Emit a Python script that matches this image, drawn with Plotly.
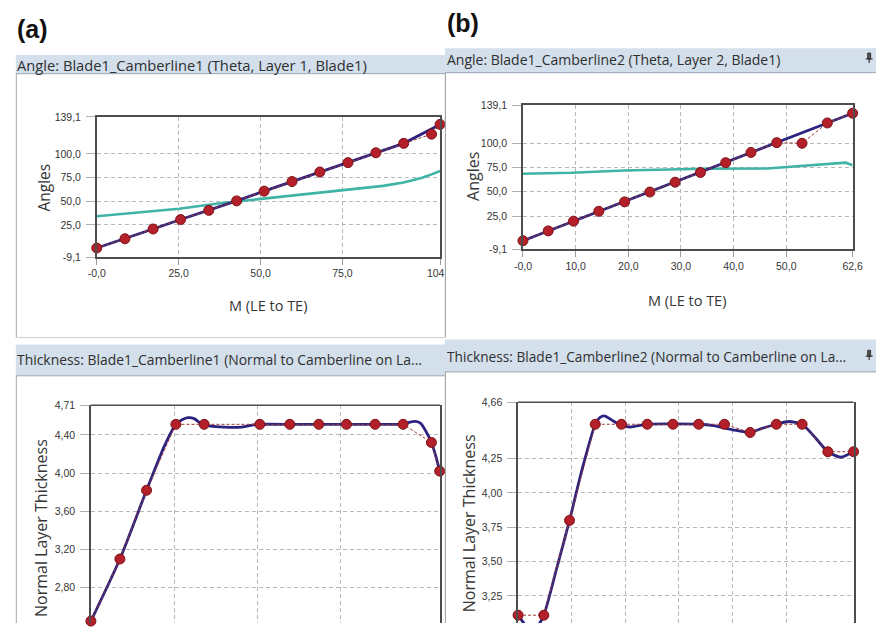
import plotly.graph_objects as go

W, H = 889, 629

# ---------------- data ----------------
# (a) angle, layer 1
a_ang_ctrl_m = [0.0, 8.6, 17.2, 25.6, 34.2, 42.7, 51.1, 59.6, 68.1, 76.7, 85.2, 93.7, 102.2, 104.8]
a_ang_ctrl = [0.5, 10.3, 20.6, 30.6, 40.3, 50.3, 60.6, 70.7, 80.8, 90.7, 101.1, 111.1, 120.8, 131.1]
a_ang_curve_m = [0.0, 8.6, 17.2, 25.6, 34.2, 42.7, 51.1, 59.6, 68.1, 76.7, 85.2, 93.7, 104.8]
a_ang_curve = [0.5, 10.3, 20.6, 30.6, 40.3, 50.3, 60.6, 70.7, 80.8, 90.7, 101.1, 111.1, 131.1]
a_beta_m = [0.0, 13.0, 25.1, 37.7, 49.9, 62.6, 74.8, 87.4, 93.7, 99.3, 102.2, 104.8]
a_beta = [34.1, 37.9, 42.0, 47.8, 52.4, 56.5, 61.1, 66.2, 69.7, 74.8, 78.3, 81.8]

# (b) angle, layer 2
b_ang_ctrl_m = [0.0, 4.8, 9.6, 14.4, 19.3, 24.1, 28.9, 33.7, 38.5, 43.3, 48.2, 53.0, 57.8, 62.6]
b_ang_ctrl = [-0.3, 9.8, 19.8, 29.9, 39.6, 49.7, 59.8, 69.8, 79.9, 90.4, 100.5, 99.8, 120.7, 130.7]
b_ang_curve_m = [0.0, 4.8, 9.6, 14.4, 19.3, 24.1, 28.9, 33.7, 38.5, 43.3, 48.2, 57.8, 62.6]
b_ang_curve = [-0.3, 9.8, 19.8, 29.9, 39.6, 49.7, 59.8, 69.8, 79.9, 90.4, 100.5, 120.7, 130.7]
b_beta_m = [0.0, 9.3, 19.2, 27.8, 34.0, 46.4, 52.6, 58.8, 61.3, 62.6]
b_beta = [68.5, 69.5, 71.9, 72.9, 73.6, 73.9, 76.3, 79.3, 79.9, 77.3]

# (a) thickness, layer 1
a_thk_ctrl_m = [0.0, 8.7, 16.7, 25.5, 34.0, 50.7, 59.7, 68.4, 76.7, 85.3, 93.7, 102.2, 104.7]
a_thk_ctrl = [2.45, 3.10, 3.82, 4.51, 4.51, 4.51, 4.51, 4.51, 4.51, 4.51, 4.51, 4.32, 4.02]
a_thk_curve_m = [0.0, 8.7, 16.7, 22.0, 25.5, 27.5, 29.1, 31.0, 33.0, 36.0, 40.0, 45.0, 48.0,
                 51.0, 60.0, 70.0, 80.0, 90.0, 93.7, 95.5, 97.4, 99.0, 100.5, 102.2, 103.5, 104.7]
a_thk_curve = [2.45, 3.10, 3.82, 4.28, 4.51, 4.56, 4.58, 4.57, 4.52, 4.49, 4.48, 4.48, 4.50,
               4.51, 4.51, 4.51, 4.51, 4.51, 4.51, 4.53, 4.54, 4.52, 4.44, 4.32, 4.18, 4.02]

# (b) thickness, layer 2
b_thk_ctrl_m = [0.0, 4.8, 9.6, 14.4, 19.3, 24.1, 28.9, 33.7, 38.5, 43.3, 48.2, 53.0, 57.8, 62.6]
b_thk_ctrl = [3.11, 3.11, 3.80, 4.50, 4.50, 4.50, 4.50, 4.50, 4.50, 4.44, 4.50, 4.50, 4.30, 4.30]
b_thk_curve_m = [0.0, 1.5, 2.4, 3.6, 4.8, 7.2, 9.6, 12.0, 14.4, 15.3, 16.2, 17.5, 19.3, 21.0,
                 24.1, 33.7, 36.5, 40.0, 43.3, 45.5, 48.2, 50.5, 53.0, 55.5, 57.8, 60.2, 62.6]
b_thk_curve = [3.11, 3.03, 3.00, 3.03, 3.11, 3.45, 3.80, 4.18, 4.50, 4.55, 4.56, 4.53, 4.49, 4.48,
               4.50, 4.50, 4.49, 4.46, 4.44, 4.47, 4.50, 4.52, 4.50, 4.40, 4.30, 4.26, 4.30]

# axis ticks
a_m_ticks = [0.0, 25.0, 50.0, 75.0, 104.8]
a_m_text = ["-0,0", "25,0", "50,0", "75,0", "104,8"]
b_m_ticks = [0.0, 10.0, 20.0, 30.0, 40.0, 50.0, 62.6]
b_m_text = ["-0,0", "10,0", "20,0", "30,0", "40,0", "50,0", "62,6"]
ang_ticks = [-9.1, 25.0, 50.0, 75.0, 100.0, 139.1]
ang_text = ["-9,1", "25,0", "50,0", "75,0", "100,0", "139,1"]
a_thk_ticks = [2.80, 3.20, 3.60, 4.00, 4.40, 4.71]
a_thk_text = ["2,80", "3,20", "3,60", "4,00", "4,40", "4,71"]
b_thk_ticks = [3.25, 3.50, 3.75, 4.00, 4.25, 4.66]
b_thk_text = ["3,25", "3,50", "3,75", "4,00", "4,25", "4,66"]

headers = [
    "Angle: Blade1_Camberline1 (Theta, Layer 1, Blade1)",
    "Angle: Blade1_Camberline2 (Theta, Layer 2, Blade1)",
    "Thickness: Blade1_Camberline1 (Normal to Camberline on La...",
    "Thickness: Blade1_Camberline2 (Normal to Camberline on La...",
]
x_title = "M (LE to TE)"
ang_title = "Angles"
thk_title = "Normal Layer Thickness"

# ---------------- styling ----------------
FONT = "Open Sans, Noto Sans, sans-serif"
TICKFONT = "Liberation Sans, Arial, sans-serif"
NAVY = "#2b237f"
RED = "#b3202a"
RED_EDGE = "#7c1318"
TEAL = "#3fb4a4"
GRID = "#b8b8b8"
FRAME = "#4d4d4d"
HEADER_BG = "#d3dfeb"
PANEL_EDGE = "#a8a8a8"
TEXT = "#363636"


def px(x):
    return x / W


def py(y):
    return 1 - y / H


fig = go.Figure()


def add_panel(idx, curve_m, curve, ctrl_m, ctrl, beta_m=None, beta=None, spline=False):
    xa = "x" if idx == 1 else f"x{idx}"
    ya = "y" if idx == 1 else f"y{idx}"
    if beta is not None:
        fig.add_trace(go.Scatter(x=beta_m, y=beta, mode="lines", xaxis=xa, yaxis=ya,
                                 line=dict(color=TEAL, width=2.6), hoverinfo="skip"))
    fig.add_trace(go.Scatter(x=curve_m, y=curve, mode="lines", xaxis=xa, yaxis=ya,
                             line=dict(color=NAVY, width=2.8,
                                       shape="spline" if spline else "linear",
                                       smoothing=0.6 if spline else None),
                             hoverinfo="skip"))
    fig.add_trace(go.Scatter(x=ctrl_m, y=ctrl, mode="lines", xaxis=xa, yaxis=ya,
                             line=dict(color="#9b3a3a", width=1, dash="3px,2px"),
                             hoverinfo="skip"))
    fig.add_trace(go.Scatter(x=ctrl_m, y=ctrl, mode="markers", xaxis=xa, yaxis=ya,
                             marker=dict(color=RED, size=10, line=dict(color=RED_EDGE, width=1)),
                             cliponaxis=False, hoverinfo="skip"))


add_panel(1, a_ang_curve_m, a_ang_curve, a_ang_ctrl_m, a_ang_ctrl, a_beta_m, a_beta)
add_panel(2, b_ang_curve_m, b_ang_curve, b_ang_ctrl_m, b_ang_ctrl, b_beta_m, b_beta)
add_panel(3, a_thk_curve_m, a_thk_curve, a_thk_ctrl_m, a_thk_ctrl, spline=True)
add_panel(4, b_thk_curve_m, b_thk_curve, b_thk_ctrl_m, b_thk_ctrl, spline=True)

tickfont = dict(family=TICKFONT, size=10.5, color=TEXT)


def xaxis(dom, rng, vals, text, anchor, labels=True, bottom_line=True):
    return dict(domain=[px(dom[0]), px(dom[1])], range=rng, tickvals=vals, ticktext=text,
                showticklabels=labels, tickfont=tickfont, anchor=anchor,
                showgrid=True, gridcolor=GRID, griddash="4px,3px", gridwidth=1,
                showline=bottom_line, mirror=bottom_line, linecolor=FRAME, linewidth=1.5,
                ticks="outside" if labels else "", ticklen=6, tickcolor="#9a9a9a",
                zeroline=False, fixedrange=True)


def yaxis(dom, rng, vals, text, anchor):
    return dict(domain=[py(dom[1]), py(dom[0])], range=rng, tickvals=vals, ticktext=text,
                tickfont=tickfont, anchor=anchor,
                showgrid=True, gridcolor=GRID, griddash="4px,3px", gridwidth=1,
                showline=True, mirror=True, linecolor=FRAME, linewidth=1.5,
                ticks="outside", ticklen=9, tickcolor="#b0b0b0", ticklabelstandoff=3,
                zeroline=False, fixedrange=True)


fig.update_layout(
    width=W, height=H, autosize=False,
    margin=dict(l=0, r=0, t=0, b=0),
    paper_bgcolor="white", plot_bgcolor="white",
    showlegend=False,
    xaxis=xaxis((90, 442), [0, 104.8], a_m_ticks, a_m_text, "y"),
    yaxis=yaxis((113, 256), [-9.1, 139.1], ang_ticks, ang_text, "x"),
    xaxis2=xaxis((527, 865), [0, 62.6], b_m_ticks, b_m_text, "y2"),
    yaxis2=yaxis((101, 248), [-9.1, 139.1], ang_ticks, ang_text, "x2"),
    xaxis3=xaxis((84, 442), [0, 104.8], a_m_ticks[:4], a_m_text[:4], "y3",
                 labels=False, bottom_line=False),
    yaxis3=yaxis((407, 629), [2.43, 4.71], a_thk_ticks, a_thk_text, "x3"),
    xaxis4=xaxis((522, 866), [0, 62.6], b_m_ticks[:6], b_m_text[:6], "y4",
                 labels=False, bottom_line=False),
    yaxis4=yaxis((404, 629), [3.053, 4.66], b_thk_ticks, b_thk_text, "x4"),
)

shapes = []
# window panels: header bars and borders
header_boxes = [(7, 447, 50, 69), (447, 889, 43, 68), (7, 447, 345, 377), (447, 889, 340, 373)]
for (x0, x1, y0, y1) in header_boxes:
    shapes.append(dict(type="rect", xref="paper", yref="paper", layer="below",
                       x0=px(x0), x1=px(x1), y0=py(y1), y1=py(y0),
                       fillcolor=HEADER_BG, line=dict(width=0)))
    shapes.append(dict(type="line", xref="paper", yref="paper", layer="below",
                       x0=px(x0), x1=px(x1), y0=py(y1), y1=py(y1),
                       line=dict(color="#9aa6b3", width=1)))
# panel edges
for (x, y0, y1) in [(7.5, 69, 338), (7.5, 377, 629)]:
    shapes.append(dict(type="line", xref="paper", yref="paper", layer="below",
                       x0=px(x), x1=px(x), y0=py(y0), y1=py(y1),
                       line=dict(color=PANEL_EDGE, width=1)))
shapes.append(dict(type="line", xref="paper", yref="paper", layer="below",
                   x0=px(7), x1=px(447), y0=py(338), y1=py(338),
                   line=dict(color="#d0d0d0", width=1)))
# the right-hand panels sit over the left-hand ones
shapes.append(dict(type="rect", xref="paper", yref="paper", layer="above",
                   x0=px(448), x1=px(470), y0=py(290), y1=py(266),
                   fillcolor="white", line=dict(width=0)))
for (y0, y1) in [(68, 338), (373, 629)]:
    shapes.append(dict(type="line", xref="paper", yref="paper", layer="above",
                       x0=px(447.5), x1=px(447.5), y0=py(y0), y1=py(y1),
                       line=dict(color=PANEL_EDGE, width=1.2)))
# top frame lines of the thickness plots
for n in (3, 4):
    shapes.append(dict(type="line", xref=f"x{n} domain", yref=f"y{n} domain",
                       x0=0, x1=1, y0=1, y1=1, line=dict(color=FRAME, width=1.5)))
# pin icons on the right-hand headers
for yc in (53, 356):
    shapes.append(dict(type="rect", xref="paper", yref="paper",
                       x0=px(880.5), x1=px(883.5), y0=py(yc + 1), y1=py(yc - 5),
                       fillcolor="#555", line=dict(color="#333", width=1)))
    shapes.append(dict(type="line", xref="paper", yref="paper",
                       x0=px(878.5), x1=px(885.5), y0=py(yc + 1), y1=py(yc + 1),
                       line=dict(color="#333", width=1.2)))
    shapes.append(dict(type="line", xref="paper", yref="paper",
                       x0=px(882), x1=px(882), y0=py(yc + 1), y1=py(yc + 5),
                       line=dict(color="#333", width=1.2)))
fig.update_layout(shapes=shapes)


def label(text, x, y, size, angle=0, anchor="center", family=FONT, color=TEXT):
    return dict(text=text, x=px(x), y=py(y), xref="paper", yref="paper",
                xanchor=anchor, yanchor="middle", showarrow=False, textangle=angle,
                font=dict(family=family, size=size, color=color))


annotations = [
    label(headers[0], 6, 60, 14.7, anchor="left", color="#2f2f2f"),
    label(headers[1], 447, 55, 14.0, anchor="left", color="#2f2f2f"),
    label(headers[2], 6, 360, 13.9, anchor="left", color="#2f2f2f"),
    label(headers[3], 447, 357, 13.7, anchor="left", color="#2f2f2f"),
    label("<b>(a)</b>", 6, 23, 25, anchor="left", family="Liberation Sans, Arial, sans-serif",
          color="#111"),
    label("<b>(b)</b>", 447, 17, 25, anchor="left", family="Liberation Sans, Arial, sans-serif",
          color="#111"),
    # axis titles
    label(x_title, 265.5, 305, 14.5),
    label(x_title, 695, 300, 14.5),
    label(ang_title, 36, 185, 15.5, angle=-90),
    label(ang_title, 475, 174, 16, angle=-90),
    label(thk_title, 33, 532, 16, angle=-90),
    label(thk_title, 472, 527, 16, angle=-90),
]
fig.update_layout(annotations=annotations)

fig.write_html("out.html")
